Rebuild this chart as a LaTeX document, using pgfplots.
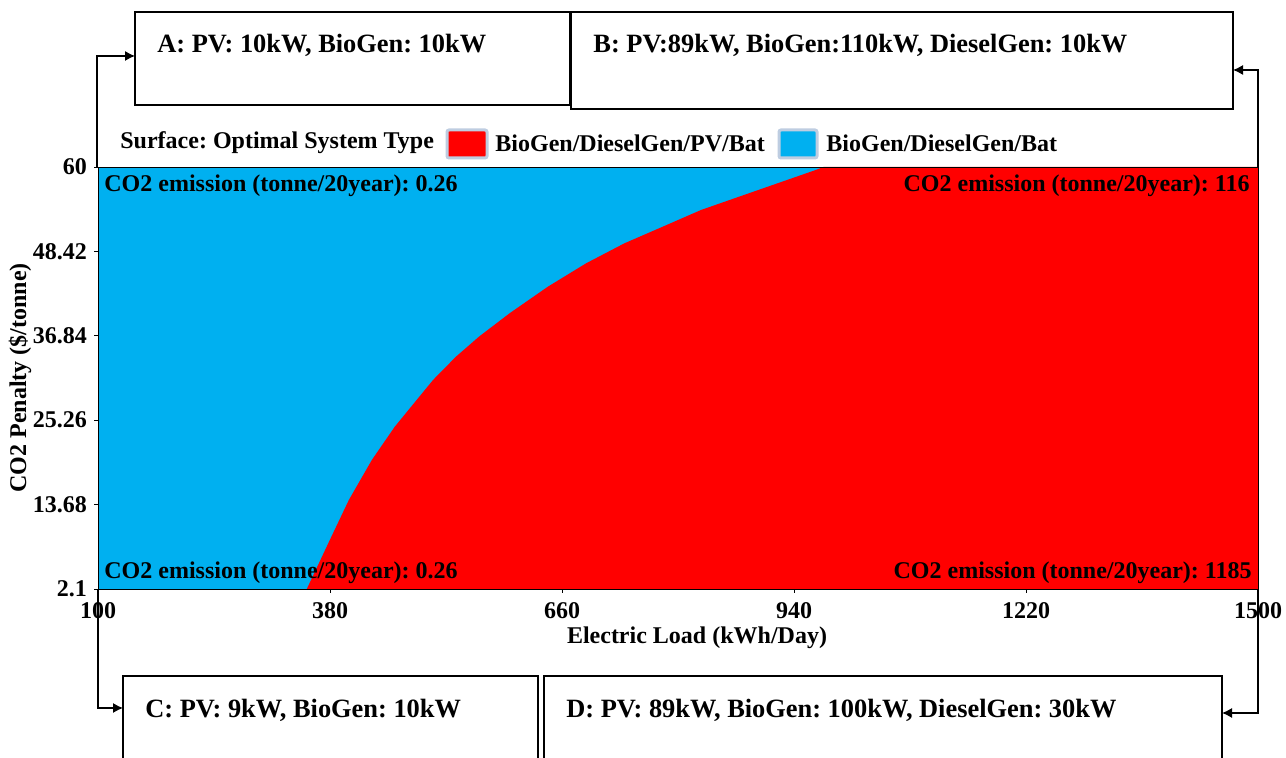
\documentclass[border=0pt]{standalone}
\usepackage{fontspec}
\setmainfont{Liberation Serif}
\usepackage{pgfplots}
\pgfplotsset{compat=1.18}
\usetikzlibrary{arrows.meta}
\definecolor{cblue}{RGB}{0,176,240}
\definecolor{cred}{RGB}{255,0,0}
\definecolor{lframe}{RGB}{190,205,225}
\newcommand{\lf}{\frenchspacing\bfseries\fontsize{12}{14}\selectfont}
\newcommand{\bx}{\frenchspacing\bfseries\fontsize{13.2}{15}\selectfont}
\frenchspacing
\begin{document}
\begin{tikzpicture}[x=0.5pt,y=0.5pt]
\path[use as bounding box] (0,0) rectangle (1286,758);
\begin{axis}[at={(49pt,84.5pt)}, anchor=south west, scale only axis,
  width=580pt, height=211pt,
  xmin=100, xmax=1500, ymin=2.1, ymax=60,
  axis background/.style={fill=cblue},
  xtick={100,380,660,940,1220,1500},
  xticklabels={100,380,660,940,1220,1500},
  ytick={2.1,13.68,25.26,36.84,48.42,60},
  yticklabels={2.1,13.68,25.26,36.84,48.42,60},
  xtick pos=bottom, ytick pos=left,
  tick align=outside, major tick length=2pt,
  tick style={black, thin},
  ticklabel style={font=\lf},
  xticklabel style={yshift=-1pt},
  axis line style={black, thin},
  axis on top]
\addplot[fill=cred, draw=none] coordinates {
(352,2.1) (379.8,8.83) (402.8,14.32) (430.5,19.8) (458.2,24.37) (481.3,27.58)
(504.4,30.78) (532.1,33.98) (559.8,36.72) (596.8,39.93) (643,43.58) (689.2,46.79)
(735.4,49.53) (781.6,51.81) (827.8,54.1) (873.9,55.93) (920.1,57.76) (966.3,59.59)
(975.5,60) (1500,60) (1500,2.1)};
\end{axis}
% in-axis annotations
\node[anchor=west, inner sep=0pt, font=\lf] at (104,572) {CO2 emission (tonne/20year): 0.26};
\node[anchor=west, inner sep=0pt, font=\lf] at (104,185) {CO2 emission (tonne/20year): 0.26};
\node[anchor=east, inner sep=0pt, font=\lf] at (1250,572) {CO2 emission (tonne/20year): 116};
\node[anchor=east, inner sep=0pt, font=\lf] at (1252,185) {CO2 emission (tonne/20year): 1185};
% axis labels
\node[font=\lf] at (697,120) {Electric Load (kWh/Day)};
\node[font=\lf, rotate=90] at (20,380) {CO2 Penalty (\$/tonne)};
% legend
\node[anchor=west, inner sep=0pt, font=\lf] at (120,615) {Surface: Optimal System Type};
\draw[lframe, fill=cred, line width=1.5pt, rounded corners=1pt] (447,600) rectangle (487,628);
\node[anchor=west, inner sep=0pt, font=\lf] at (495,615) {BioGen/DieselGen/PV/Bat};
\draw[lframe, fill=cblue, line width=1.5pt, rounded corners=1pt] (779,600) rectangle (817,628);
\node[anchor=west, inner sep=0pt, font=\lf] at (826,615) {BioGen/DieselGen/Bat};
% boxes
\draw[black, line width=0.8pt] (135,653) rectangle (570,746);
\node[anchor=west, inner sep=0pt, font=\bx] at (157,713) {A: PV: 10kW, BioGen: 10kW};
\draw[black, line width=0.8pt] (571,649) rectangle (1233,746);
\node[anchor=west, inner sep=0pt, font=\bx] at (593,713) {B: PV:89kW, BioGen:110kW, DieselGen: 10kW};
\draw[black, line width=0.8pt] (123,0) -- (123,82) -- (538,82) -- (538,0);
\node[anchor=west, inner sep=0pt, font=\bx] at (145,48) {C: PV: 9kW, BioGen: 10kW};
\draw[black, line width=0.8pt] (544,0) -- (544,82) -- (1222,82) -- (1222,0);
\node[anchor=west, inner sep=0pt, font=\bx] at (566,48) {D: PV: 89kW, BioGen: 100kW, DieselGen: 30kW};
% arrows
\draw[black, line width=0.6pt, -{Latex[length=5pt,width=5pt]}] (97,591) -- (97,702) -- (135,702);
\draw[black, line width=0.6pt, -{Latex[length=5pt,width=5pt]}] (1258,591) -- (1258,688) -- (1233,688);
\draw[black, line width=0.6pt, -{Latex[length=5pt,width=5pt]}] (98,169) -- (98,50) -- (123,50);
\draw[black, line width=0.6pt, -{Latex[length=5pt,width=5pt]}] (1258,169) -- (1258,45) -- (1222,45);
\end{tikzpicture}
\end{document}
